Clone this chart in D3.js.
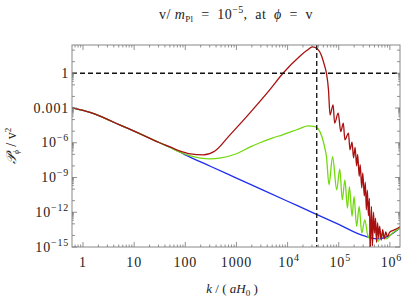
<!DOCTYPE html>
<html>
<head>
<meta charset="utf-8">
<script src="https://cdn.jsdelivr.net/npm/d3@7"></script>
<style>
  body { margin: 0; background: #fff; }
</style>
</head>
<body>
<script>
// values, stored as log10 (k) and log10 (P / v^2)
var blueLogK = [-0.215, 0, 0.25, 0.5, 0.75, 1, 1.5, 1.76, 2, 2.5, 3, 3.5, 4, 4.5, 5, 5.5, 5.75, 5.95, 6.2];
var blueLogP = [-2.99, -3.21, -3.55, -4.03, -4.52, -5.0, -6.0, -6.5, -7.04, -8.05, -9.05, -10.05, -11.05, -12.05, -13.05, -14.05, -14.3, -14.1, -13.35];

var greenLogK = [-0.215, 0, 0.25, 0.5, 0.75, 1, 1.5, 1.7, 1.9, 2.1, 2.3, 2.48, 2.7, 3.0, 3.26, 3.46, 3.7, 3.9, 4.1, 4.25, 4.40, 4.52, 4.6, 4.67, 4.72, 4.76,
  4.81, 4.88, 4.96, 5.02, 5.07, 5.12, 5.17, 5.21, 5.26, 5.30, 5.35, 5.40, 5.45, 5.51, 5.58, 5.64, 5.71, 5.77, 5.84, 5.92, 6.05, 6.2];
var greenLogP = [-2.99, -3.21, -3.55, -4.03, -4.52, -5.0, -6.0, -6.4, -6.82, -7.14, -7.33, -7.39, -7.3, -6.95, -6.38, -6.0, -5.6, -5.31, -5.0, -4.76, -4.54, -4.58, -4.8, -5.46, -6.3, -7.19,
  -9.63, -7.19, -10.06, -8.28, -10.92, -9.2, -11.64, -9.78, -12.36, -10.64, -13.22, -11.5, -13.79, -12.65, -14.22, -13.1, -13.5, -14.52, -13.9, -14.3, -13.8, -13.35];

var redLogK = [-0.215, 0, 0.25, 0.5, 0.75, 1, 1.5, 1.7, 1.9, 2.1, 2.35, 2.58, 2.87, 3.26, 3.65, 3.91, 4.24, 4.38, 4.49, 4.58, 4.66, 4.72, 4.76, 4.8,
  4.83, 4.89, 4.92, 4.99, 5.04, 5.09, 5.12, 5.19, 5.22, 5.26, 5.29, 5.32, 5.35, 5.37, 5.40, 5.42, 5.45, 5.47, 5.50, 5.52, 5.54, 5.56, 5.58, 5.60,
  5.615, 5.64, 5.66, 5.68, 5.70, 5.72, 5.74, 5.76, 5.78, 5.80, 5.83, 5.86, 5.89, 5.92, 5.95, 6.0, 6.1, 6.2];
var redLogP = [-2.99, -3.21, -3.55, -4.03, -4.52, -5.0, -6.0, -6.36, -6.72, -6.96, -7.04, -6.71, -5.34, -3.44, -1.44, 0, 1.47, 1.98, 2.27, 2.12, 1.55, 0.7, 0, -1.44,
  -3.6, -2.73, -4.31, -3.45, -5.03, -4.31, -5.75, -5.17, -6.61, -5.95, -7.3, -6.4, -8.0, -7.0, -8.9, -7.9, -9.9, -8.6, -10.6, -9.4, -11.8, -10.1, -12.3, -10.8,
  -15.6, -11.5, -14.9, -12.0, -13.8, -12.5, -14.6, -12.9, -14.2, -13.2, -14.4, -13.5, -14.3, -13.7, -14.1, -13.7, -13.5, -13.25];

var xTickExp = [0, 1, 2, 3, 4, 5, 6];
var xTickLabels = ["1", "10", "100", "1000", "10|4", "10|5", "10|6"];
var yTickExp = [0, -3, -6, -9, -12, -15];
var yTickLabels = ["1", "0.001", "10|\u22126", "10|\u22129", "10|\u221212", "10|\u221215"];
var kMarkExp = 4.57;   // vertical dashed line
var pMark = 1;         // horizontal dashed line

var serif = "Liberation Serif";

var margin = {top: 45, right: 5, bottom: 53, left: 72},
    width = 405 - margin.left - margin.right,
    height = 300 - margin.top - margin.bottom;

var svg = d3.select("body").append("svg")
    .attr("width", 405)
    .attr("height", 300)
    .style("font-family", serif);

var g = svg.append("g")
    .attr("transform", "translate(" + margin.left + "," + margin.top + ")");

var x = d3.scaleLog()
    .domain([Math.pow(10, -0.215), Math.pow(10, 6.198)])
    .range([0, width]);

var y = d3.scaleLog()
    .domain([1e-15, Math.pow(10, 2.44)])
    .range([height, 0]);

g.append("clipPath").attr("id", "clip")
  .append("rect").attr("width", width).attr("height", height);

function series(lk, lp) {
    return lk.map(function(v, i) { return [Math.pow(10, v), Math.pow(10, lp[i])]; });
}

var line = d3.line()
    .x(function(d) { return x(d[0]); })
    .y(function(d) { return y(d[1]); })
    .curve(d3.curveMonotoneX);

var curves = [
    {data: series(blueLogK, blueLogP), color: "#1f2ef0"},
    {data: series(greenLogK, greenLogP), color: "#73d90f"},
    {data: series(redLogK, redLogP), color: "#a8100f"}
];

var plot = g.append("g").attr("clip-path", "url(#clip)");

curves.forEach(function(c) {
    plot.append("path")
        .attr("d", line(c.data))
        .attr("fill", "none")
        .attr("stroke", c.color)
        .attr("stroke-width", 1.3);
});

// dashed guide lines
plot.append("line")
    .attr("x1", 0).attr("x2", width)
    .attr("y1", y(pMark)).attr("y2", y(pMark))
    .attr("stroke", "#111").attr("stroke-width", 1.3)
    .attr("stroke-dasharray", "5,3");
plot.append("line")
    .attr("x1", x(Math.pow(10, kMarkExp))).attr("x2", x(Math.pow(10, kMarkExp)))
    .attr("y1", 0).attr("y2", height)
    .attr("stroke", "#111").attr("stroke-width", 1.3)
    .attr("stroke-dasharray", "5,3");

// frame
g.append("rect")
    .attr("width", width).attr("height", height)
    .attr("fill", "none").attr("stroke", "#888").attr("stroke-width", 1);

// ticks on all four sides, pointing inward
var xMinor = [], yMinor = [];
for (var e = -1; e <= 6; e++) {
    for (var m = 2; m <= 9; m++) xMinor.push(m * Math.pow(10, e));
}
for (var e2 = -16; e2 <= 2; e2++) {
    if (yTickExp.indexOf(e2) < 0) yMinor.push({v: Math.pow(10, e2), len: 3});
}
yTickExp.forEach(function(e3) {
    for (var m = 2; m <= 9; m++) yMinor.push({v: m * Math.pow(10, e3 - 1), len: 1.8});
});

var tickG = g.append("g").attr("stroke", "#777").attr("stroke-width", 0.8);
xMinor.forEach(function(v) {
    if (v < x.domain()[0] || v > x.domain()[1]) return;
    var px = x(v);
    tickG.append("line").attr("x1", px).attr("x2", px).attr("y1", height).attr("y2", height - 2.5);
    tickG.append("line").attr("x1", px).attr("x2", px).attr("y1", 0).attr("y2", 2.5);
});
xTickExp.forEach(function(e4) {
    var px = x(Math.pow(10, e4));
    tickG.append("line").attr("x1", px).attr("x2", px).attr("y1", height).attr("y2", height - 5);
    tickG.append("line").attr("x1", px).attr("x2", px).attr("y1", 0).attr("y2", 5);
});
yMinor.forEach(function(t) {
    if (t.v < y.domain()[0] || t.v > y.domain()[1]) return;
    var py = y(t.v);
    tickG.append("line").attr("x1", 0).attr("x2", t.len).attr("y1", py).attr("y2", py);
    tickG.append("line").attr("x1", width).attr("x2", width - t.len).attr("y1", py).attr("y2", py);
});
yTickExp.forEach(function(e5) {
    var py = y(Math.pow(10, e5));
    tickG.append("line").attr("x1", 0).attr("x2", 5).attr("y1", py).attr("y2", py);
    tickG.append("line").attr("x1", width).attr("x2", width - 5).attr("y1", py).attr("y2", py);
});

function powLabel(sel, label) {
    var parts = label.split("|");
    sel.append("tspan").text(parts[0]);
    if (parts.length > 1) {
        sel.append("tspan").attr("dy", -6).style("font-size", "10px").text(parts[1]);
    }
}

xTickExp.forEach(function(e6, i) {
    var t = g.append("text")
        .attr("x", x(Math.pow(10, e6)) + (xTickLabels[i].indexOf("|") >= 0 ? 1.5 : 0))
        .attr("y", height + 20)
        .attr("text-anchor", "middle")
        .attr("fill", "#222")
        .style("font-size", "14px")
        .style("letter-spacing", "0.8px");
    powLabel(t, xTickLabels[i]);
});
yTickExp.forEach(function(e7, i) {
    var t = g.append("text")
        .attr("x", -3)
        .attr("y", y(Math.pow(10, e7)) + 4.5)
        .attr("text-anchor", "end")
        .attr("fill", "#222")
        .style("font-size", "14px")
        .style("letter-spacing", "0.8px");
    powLabel(t, yTickLabels[i]);
});

// axis titles
var xl = svg.append("text")
    .attr("x", margin.left + width / 2 - 4)
    .attr("y", 293)
    .attr("text-anchor", "middle")
    .attr("fill", "#222")
    .style("font-size", "13px");
xl.append("tspan").style("font-style", "italic").text("k");
xl.append("tspan").text(" / ( ");
xl.append("tspan").style("font-style", "italic").text("aH");
xl.append("tspan").attr("dy", 3).style("font-size", "9px").text("0");
xl.append("tspan").attr("dy", -3).text(" )");

var yl = svg.append("text")
    .attr("transform", "translate(16," + (margin.top + height / 2) + ") rotate(-90)")
    .attr("text-anchor", "middle")
    .attr("fill", "#222")
    .style("font-size", "14px");
yl.append("tspan").style("font-style", "italic").text("\uD835\uDCAB");
yl.append("tspan").attr("dy", 3).style("font-size", "8px").style("font-style", "italic").text("\u03D5");
yl.append("tspan").attr("dy", -3).text(" / v");
yl.append("tspan").attr("dy", -5).style("font-size", "9px").text("2");

// title
var tt = svg.append("text")
    .attr("x", margin.left + width / 2)
    .attr("y", 19)
    .attr("text-anchor", "middle")
    .attr("fill", "#222")
    .style("font-size", "14px")
    .style("white-space", "pre")
    .style("letter-spacing", "0.4px");
tt.append("tspan").text("v/ ");
tt.append("tspan").style("font-style", "italic").text("m");
tt.append("tspan").attr("dy", 3).style("font-size", "9px").text("Pl");
tt.append("tspan").attr("dy", -3).text("  =  10");
tt.append("tspan").attr("dy", -6).style("font-size", "10px").text("\u22125");
tt.append("tspan").attr("dy", 6).text(",  at  ");
tt.append("tspan").style("font-style", "italic").text("\u03D5");
tt.append("tspan").text("  =  v");
</script>
</body>
</html>
